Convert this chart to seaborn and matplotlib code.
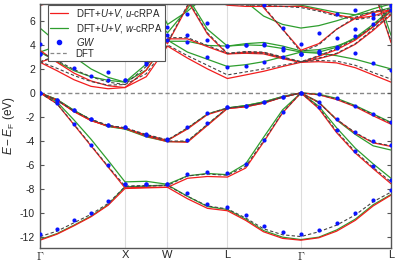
import pandas as pd
import matplotlib
matplotlib.use('Agg')
import matplotlib.pyplot as plt
from matplotlib.lines import Line2D
import seaborn as sns

# k-path (Gamma-X = 1) and high-symmetry points
kpath = [0.0, 0.2, 0.4, 0.6, 0.8, 1.0, 1.25, 1.5, 1.735, 1.97, 2.205,
         2.42, 2.63, 2.855, 3.07, 3.28, 3.49, 3.71, 3.92, 4.13]
kticks = [0.0, 1.0, 1.5, 2.205, 3.07, 4.13]
klabels = [r'$\Gamma$', 'X', 'W', 'L', r'$\Gamma$', 'L']
yticks = [-12, -10, -8, -6, -4, -2, 0, 2, 4, 6]

# DFT bands (eV)
dft_v1 = [-11.95, -11.5, -10.8, -10.1, -9.2, -7.8, -7.75, -7.7, -8.6, -9.4, -9.65, -10.4, -11.3, -11.8, -11.95, -11.55, -11.0, -10.15, -9.05, -8.25]
dft_v2 = [0, -0.9, -2.6, -4.35, -6.1, -7.75, -7.7, -7.7, -6.9, -6.75, -6.85, -6.1, -4.0, -1.6, 0, -1.2, -3.2, -4.9, -6.2, -7.4]
dft_v3 = [0, -0.6, -1.5, -2.2, -2.7, -2.9, -3.55, -4.0, -4.0, -2.6, -1.25, -1.1, -0.8, -0.35, 0, -0.8, -2.2, -3.3, -4.1, -4.4]
dft_v4 = [0, -0.6, -1.5, -2.2, -2.7, -2.9, -3.45, -3.9, -2.9, -1.75, -1.25, -1.1, -0.8, -0.35, 0, -0.15, -0.5, -1.1, -1.8, -2.5]
dft_c1 = [2.6, 2.05, 1.45, 0.95, 0.65, 0.7, 1.6, 4.0, 3.1, 2.3, 1.5, 1.75, 2.0, 2.3, 2.6, 2.7, 2.65, 2.3, 1.7, 1.15]
dft_c2 = [3.4, 2.7, 1.95, 1.35, 0.9, 0.7, 2.2, 4.6, 4.6, 3.95, 3.3, 3.45, 3.4, 3.0, 2.6, 2.9, 3.3, 4.1, 5.3, 6.6]
dft_c3 = [2.6, 3.1, 3.9, 5.0, 6.3, 7.6, 6.6, 4.2, 7.3, 9.5, 9.5, 9.0, 7.2, 5.3, 3.4, 4.0, 5.3, 6.3, 6.8, 7.0]
dft_c4 = [9.5, 9.5, 9.5, 9.5, 9.5, 9.5, 9.5, 9.5, 7.8, 5.0, 3.3, 3.35, 3.3, 2.9, 2.6, 3.1, 3.7, 4.5, 5.6, 6.9]
dft_c5 = [7.3, 7.7, 9.5, 9.5, 9.5, 9.5, 9.5, 9.5, 9.5, 8.0, 7.4, 7.3, 7.3, 7.2, 7.1, 6.8, 6.4, 6.1, 6.3, 6.8]
dft_c6 = [9.5, 9.5, 9.5, 9.5, 9.5, 9.5, 9.5, 9.5, 9.5, 9.5, 9.5, 9.5, 9.5, 9.5, 9.5, 9.5, 9.5, 9.5, 8.8, 4.3]

# DFT+U+V, u-cRPA
u_v1 = [-12.25, -11.75, -11.05, -10.3, -9.35, -7.95, -7.9, -7.85, -8.8, -9.6, -9.8, -10.6, -11.55, -12.1, -12.25, -12.05, -11.5, -10.6, -9.4, -8.5]
u_v2 = [0, -0.9, -2.65, -4.4, -6.15, -7.9, -7.85, -7.85, -7.1, -6.95, -7.0, -6.25, -4.1, -1.65, 0, -1.3, -3.3, -5.0, -6.3, -7.55]
u_v3 = [0, -0.6, -1.55, -2.3, -2.75, -2.95, -3.6, -4.05, -4.1, -2.7, -1.3, -1.15, -0.85, -0.35, 0, -0.8, -2.2, -3.35, -4.15, -4.45]
u_v4 = [0, -0.6, -1.55, -2.3, -2.75, -2.95, -3.5, -3.95, -3.0, -1.8, -1.3, -1.15, -0.85, -0.35, 0, -0.15, -0.55, -1.15, -1.9, -2.6]
u_c1 = [2.55, 1.85, 1.1, 0.55, 0.35, 0.45, 1.35, 3.9, 2.9, 2.0, 1.2, 1.5, 1.8, 2.2, 2.55, 2.6, 2.5, 2.1, 1.5, 0.9]
u_c2 = [3.55, 2.55, 1.65, 1.0, 0.6, 0.45, 1.9, 4.5, 4.5, 3.85, 3.25, 3.4, 3.35, 2.95, 2.55, 2.85, 3.25, 4.05, 5.2, 6.5]
u_c3 = [2.55, 3.05, 3.85, 4.95, 6.25, 7.5, 6.5, 4.1, 7.2, 9.5, 9.5, 8.9, 7.1, 5.3, 3.55, 4.1, 5.3, 6.2, 6.7, 6.9]
u_c4 = [9.5, 9.5, 9.5, 9.5, 9.5, 9.5, 9.5, 9.5, 7.7, 4.9, 3.25, 3.3, 3.25, 2.85, 2.55, 3.05, 3.6, 4.4, 5.5, 6.8]
u_c5 = [7.3, 7.6, 9.5, 9.5, 9.5, 9.5, 9.5, 9.5, 9.5, 7.9, 7.3, 7.2, 7.2, 7.2, 7.2, 6.9, 6.5, 6.2, 6.4, 6.9]
u_c6 = [9.5, 9.5, 9.5, 9.5, 9.5, 9.5, 9.5, 9.5, 9.5, 9.5, 9.5, 9.5, 9.5, 9.5, 9.5, 9.5, 9.5, 9.5, 8.7, 4.2]

# DFT+U+V, w-cRPA
w_v1 = [-12.2, -11.7, -11.0, -10.25, -9.3, -7.8, -7.75, -7.65, -8.6, -9.45, -9.7, -10.5, -11.45, -12.0, -12.2, -12.0, -11.4, -10.5, -9.3, -8.45]
w_v2 = [0, -0.75, -2.25, -3.85, -5.6, -7.4, -7.35, -7.6, -6.9, -6.7, -6.8, -5.9, -3.7, -1.4, 0, -1.1, -2.9, -4.6, -5.9, -7.1]
w_v3 = [0, -0.55, -1.45, -2.25, -2.75, -3.0, -3.65, -4.05, -4.05, -2.65, -1.25, -1.05, -0.75, -0.3, 0, -0.75, -2.25, -3.45, -4.4, -4.75]
w_v4 = [0, -0.55, -1.45, -2.25, -2.8, -3.0, -3.55, -3.95, -2.95, -1.75, -1.25, -1.05, -0.75, -0.3, 0, -0.1, -0.45, -1.05, -1.75, -2.45]
w_c1 = [3.4, 2.6, 1.85, 1.35, 1.05, 0.9, 1.9, 4.4, 3.4, 2.8, 2.2, 2.35, 2.6, 3.0, 3.4, 3.3, 3.1, 2.8, 2.4, 2.0]
w_c2 = [5.4, 4.2, 3.0, 2.0, 1.3, 0.9, 2.4, 4.3, 4.3, 3.95, 3.9, 4.1, 4.2, 3.9, 3.5, 3.6, 3.9, 4.5, 5.5, 6.8]
w_c3 = [3.4, 3.9, 4.6, 5.6, 6.8, 8.0, 7.0, 5.0, 7.0, 9.5, 9.5, 7.6, 6.4, 5.7, 5.4, 5.6, 6.0, 6.5, 7.0, 7.4]
w_c4 = [9.5, 9.5, 9.5, 9.5, 9.5, 9.5, 9.5, 9.5, 8.0, 5.3, 3.9, 4.0, 3.95, 3.7, 3.4, 3.4, 3.8, 4.6, 5.7, 7.0]
w_c5 = [9.5, 9.5, 9.5, 9.5, 9.5, 9.5, 9.5, 5.7, 6.8, 8.2, 7.6, 7.5, 7.5, 7.4, 7.3, 7.0, 6.7, 6.5, 6.7, 7.1]
w_c6 = [9.5, 9.5, 9.5, 9.5, 9.5, 9.5, 9.5, 9.5, 9.5, 9.5, 9.5, 9.5, 9.5, 9.5, 9.5, 9.5, 9.5, 9.5, 9.2, 4.8]

# GW quasiparticle energies
gw_v1 = [-11.75, -11.3, -10.6, -9.95, -9.0, -7.6, -7.55, -7.55, -8.35, -9.2, -9.45, -10.15, -11.1, -11.6, -11.75, -11.4, -10.85, -10.0, -8.9, -8.05]
gw_v2 = [0, -0.85, -2.55, -4.3, -6.0, -7.6, -7.55, -7.55, -6.75, -6.6, -6.7, -5.95, -3.9, -1.55, 0, -1.15, -3.1, -4.8, -6.05, -7.25]
gw_v3 = [0, -0.55, -1.45, -2.2, -2.65, -2.85, -3.5, -3.9, -3.9, -2.5, -1.2, -1.05, -0.75, -0.3, 0, -0.75, -2.15, -3.25, -4.0, -4.3]
gw_v4 = [0, -0.55, -1.45, -2.2, -2.65, -2.85, -3.4, -3.85, -2.8, -1.7, -1.2, -1.05, -0.75, -0.3, 0, -0.1, -0.45, -1.05, -1.75, -2.45]
gw_c1 = [3.2, 2.85, 2.05, 1.4, 1.1, 1.1, 2.4, 4.4, 4.2, 3.0, 2.2, 2.25, 2.55, 3.0, 3.2, 3.35, 3.7, 3.3, 2.5, 1.9]
gw_c2 = [4.1, 3.9, 3.5, 3.0, 1.75, 1.1, 2.6, 4.8, 4.8, 4.4, 3.9, 4.0, 4.05, 3.7, 3.2, 3.4, 3.85, 4.7, 5.7, 6.9]
gw_c3 = [3.2, 3.7, 4.5, 5.6, 6.8, 8.0, 7.0, 5.5, 6.6, 9.5, 9.5, 9.5, 7.3, 5.4, 4.1, 5.0, 6.6, 6.9, 6.6, 7.2]
gw_c4 = [9.5, 9.5, 9.5, 9.5, 9.5, 9.5, 9.5, 9.5, 8.3, 5.8, 3.9, 4.0, 3.95, 3.6, 3.2, 3.5, 4.55, 5.3, 6.2, 7.3]

bands = {
    'DFT': [dft_v1, dft_v2, dft_v3, dft_v4, dft_c1, dft_c2, dft_c3, dft_c4, dft_c5, dft_c6],
    'u': [u_v1, u_v2, u_v3, u_v4, u_c1, u_c2, u_c3, u_c4, u_c5, u_c6],
    'w': [w_v1, w_v2, w_v3, w_v4, w_c1, w_c2, w_c3, w_c4, w_c5, w_c6],
}
gw_bands = [gw_v1, gw_v2, gw_v3, gw_v4, gw_c1, gw_c2, gw_c3, gw_c4]

rows = []
for method, blist in bands.items():
    for i, b in enumerate(blist):
        for k, e in zip(kpath, b):
            rows.append({'k': k, 'E': e, 'method': method, 'band': f'{method}{i}'})
df = pd.DataFrame(rows)
gw = pd.DataFrame([{'k': k, 'E': e} for b in gw_bands for k, e in zip(kpath, b)])

sns.set_style('ticks')
plt.rcParams['font.family'] = ['Liberation Sans', 'DejaVu Sans']
plt.rcParams['mathtext.fontset'] = 'custom'
plt.rcParams['mathtext.rm'] = 'Liberation Sans'
plt.rcParams['mathtext.it'] = 'Liberation Sans:italic'
plt.rcParams['axes.unicode_minus'] = False

red = '#f21d1d'
green = '#2e9e2e'
dftc = '#444444'

fig = plt.figure(figsize=(3.97, 2.64), dpi=100)
ax = fig.add_axes([40 / 397, 16 / 264, 351 / 397, 244 / 264])

for k in kticks[1:-1]:
    ax.axvline(k, color='#dddddd', lw=0.8, zorder=0)
ax.axhline(0, color='#888888', lw=1.0, ls=(0, (3, 2)), zorder=0.5)

sns.lineplot(data=df, x='k', y='E', hue='method', style='method', units='band',
             estimator=None, sort=False, hue_order=['w', 'u', 'DFT'],
             palette={'w': green, 'u': red, 'DFT': dftc},
             dashes={'w': '', 'u': '', 'DFT': (3, 2)},
             size='method', sizes={'w': 0.9, 'u': 0.9, 'DFT': 0.8},
             legend=False, ax=ax)
sns.scatterplot(data=gw, x='k', y='E', color='#0a14ff', s=9, linewidth=0,
                zorder=5, legend=False, ax=ax)

ax.set_xlim(0, 4.13)
ax.set_ylim(-12.9, 7.4)
ax.set_xticks(kticks)
ax.set_xticklabels(klabels, fontsize=8)
for lbl in ax.get_xticklabels():
    lbl.set_math_fontfamily('cm')
ax.set_yticks(yticks)
ax.set_yticklabels([str(t) for t in yticks], fontsize=7.5)
ax.tick_params(axis='x', length=0, pad=1.5)
ax.tick_params(axis='y', direction='in', length=3, right=True, color='#555555')
ax.set_xlabel('')
ax.set_ylabel(r'$E - E_\mathrm{F}$ (eV)', fontsize=8.5, labelpad=2)
for s in ax.spines.values():
    s.set_color('#555555')
    s.set_linewidth(1.0)

handles = [
    Line2D([], [], color=red, lw=0.9),
    Line2D([], [], color=green, lw=0.9),
    Line2D([], [], color='#0a14ff', marker='o', ms=3, lw=0),
    Line2D([], [], color='#888888', lw=0.9, ls=(0, (3, 2))),
]
labels = [r'DFT+$U$+$V$, $u$-cRPA', r'DFT+$U$+$V$, $w$-cRPA', r'$GW$', 'DFT']
leg = ax.legend(handles, labels, loc='upper left', bbox_to_anchor=(0.02, 1.0),
                fontsize=7, fancybox=False, framealpha=1, edgecolor='#555555',
                handlelength=1.8, labelspacing=0.12, borderpad=0.25,
                handletextpad=0.8, borderaxespad=0.1)
leg.get_frame().set_linewidth(0.8)

fig.savefig('out.png', dpi=100)
